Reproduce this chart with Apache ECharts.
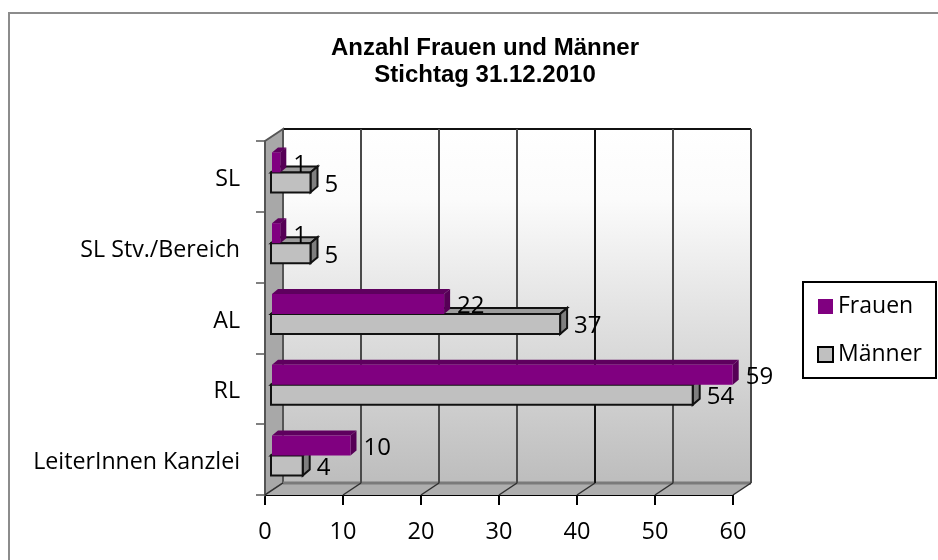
<!DOCTYPE html>
<html><head><meta charset="utf-8">
<style>html,body{margin:0;padding:0;background:#fff}#c{width:938px;height:560px}</style>
<script src="https://cdn.jsdelivr.net/npm/echarts@6/dist/echarts.min.js"></script>
</head><body><div id="c"></div>
<script>
var categories = ['SL','SL Stv./Bereich','AL','RL','LeiterInnen Kanzlei'];
var frauen = [1,1,22,59,10];
var maenner = [5,5,37,54,4];
var xTicks = [0,10,20,30,40,50,60];
var darkTicks = [40];

var DX = 18, DY = 12;      // wall depth
var BX = 6;                // bar start offset
var BH = 20;               // bar face height
var labelFont = '"Open Sans"';

var chart = echarts.init(document.getElementById('c'));

function poly(pts, fill, stroke, lw, z2) {
  return {type:'polygon', shape:{points:pts}, z2:z2||0,
    style:{fill:fill, stroke:stroke||null, lineWidth:lw||0}};
}

function renderWalls(params, api) {
  var x0 = api.coord([0,0])[0];
  var top = params.coordSys.y, h = params.coordSys.height;
  var bot = top + h;
  var xmax = api.coord([60,0])[0];
  var ch = [];
  // back wall
  ch.push({type:'rect', shape:{x:x0+DX, y:top-DY, width:xmax-x0, height:h},
    style:{fill:new echarts.graphic.LinearGradient(0,0,0,1,[
      {offset:0,color:'#ffffff'},{offset:0.2,color:'#fbfbfb'},{offset:1,color:'#bdbdbd'}]),
      stroke:null}});
  ch.push({type:'line', shape:{x1:x0+DX,y1:top-DY,x2:xmax+DX,y2:top-DY}, style:{stroke:'#111',lineWidth:2}});
  // left wall
  ch.push(poly([[x0,top],[x0+DX,top-DY],[x0+DX,bot-DY],[x0,bot]],'#a8a8a8','#555555',2));
  // floor
  ch.push(poly([[x0,bot],[x0+DX,bot-DY],[xmax+DX,bot-DY],[xmax,bot]],'#aeaeae',null,0));
  ch.push({type:'line', shape:{x1:x0+DX,y1:bot-DY,x2:xmax+DX,y2:bot-DY}, style:{stroke:'#7a7a7a',lineWidth:3}});
  // gridlines on back wall and floor
  xTicks.forEach(function(t){
    var x = api.coord([t,0])[0];
    var dark = darkTicks.indexOf(t) >= 0;
    var col = dark ? '#111111' : '#4a4a4a';
    if (t > 0) ch.push({type:'line', shape:{x1:x+DX,y1:top-DY,x2:x+DX,y2:bot-DY}, style:{stroke:col,lineWidth:2}});
    ch.push({type:'line', shape:{x1:x+DX,y1:bot-DY,x2:x,y2:bot}, style:{stroke:'#303030',lineWidth:1.5}});
  });
  return {type:'group', children:ch};
}

function barRender(offset, cols) {
  return function(params, api){
    var v = api.value(0), cat = api.value(1);
    var p0 = api.coord([0,cat]), p1 = api.coord([v,cat]);
    var xs = p0[0] + BX + cols.xs, xe = p1[0] + BX + cols.xe;
    var yt = p0[1] - 24 + offset, yb = yt + BH;
    var d = cols.d, up = cols.up;
    var ch = [];
    ch.push(poly([[xs,yt],[xs+d,yt-up],[xe+d,yt-up],[xe,yt]],cols.top,cols.edge,cols.lw));
    ch.push(poly([[xe,yt],[xe+d,yt-up],[xe+d,yb-up],[xe,yb]],cols.side,cols.edge,cols.lw));
    ch.push({type:'rect', shape:{x:xs,y:yt,width:xe-xs,height:BH}, style:{fill:cols.face,stroke:cols.edge,lineWidth:cols.lw}});
    ch.push({type:'text', z2:50, style:{text:String(v), x:xe+d+7, y:(yt+yb)/2+2.5, fill:'#000',
      font:'24px '+labelFont, textAlign:'left', textVerticalAlign:'middle'}});
    return {type:'group', children:ch};
  };
}

function rows(arr){ return arr.map(function(v,i){ return [v,i]; }); }

chart.setOption({
  animation:false,
  backgroundColor:'#fff',
  title:{text:'Anzahl Frauen und Männer\nStichtag 31.12.2010', left:480, top:30, textAlign:'center',
    textStyle:{fontFamily:'"Liberation Sans"', fontSize:24, fontWeight:'bold', color:'#000', lineHeight:27}},
  graphic:[{type:'polyline', z:-1, silent:true, shape:{points:[[9,570],[9,13],[950,13]]},
    style:{fill:'none',stroke:'#8c8c8c',lineWidth:2}}],
  legend:{orient:'vertical', left:803, top:282, padding:[13,14,12,14], itemGap:25, itemWidth:15, itemHeight:15,
    icon:'rect', backgroundColor:'#fff', borderColor:'#000', borderWidth:2, borderRadius:0,
    data:['Frauen','Männer'],
    textStyle:{fontFamily:labelFont, fontSize:23, color:'#000'}},
  grid:{left:265, right:205, top:141, bottom:65, containLabel:false},
  xAxis:{type:'value', min:0, max:60, interval:10,
    axisLine:{show:true,onZero:false,lineStyle:{color:'#000',width:2}},
    axisTick:{show:true,length:10,lineStyle:{color:'#000',width:2}},
    axisLabel:{margin:25,fontFamily:labelFont,fontSize:23.5,color:'#000',formatter:function(v){return xTicks.indexOf(v)>=0?String(v):'';}},
    splitLine:{show:false}},
  yAxis:{type:'category', inverse:true, data:categories,
    axisLine:{show:true,lineStyle:{color:'#555',width:2}},
    axisTick:{show:true,length:9,lineStyle:{color:'#808080',width:2}},
    axisLabel:{margin:25,fontFamily:labelFont,fontSize:23.2,color:'#000',verticalAlign:'top',lineHeight:6},
    splitLine:{show:false}},
  series:[
    {type:'custom', name:'walls', silent:true, z:1, renderItem:renderWalls, data:[[0,0]],
     encode:{x:0,y:1}},
    {type:'custom', name:'Männer', z:2, itemStyle:{color:'#c0c0c0',borderColor:'#000',borderWidth:1.5},
     renderItem:barRender(BH,{xs:0,xe:0.5,d:7,up:6,top:'#9c9c9c',side:'#7f7f7f',face:'#c0c0c0',edge:'#111',lw:2}),
     data:rows(maenner), encode:{x:0,y:1}},
    {type:'custom', name:'Frauen', z:3, itemStyle:{color:'#800080'},
     renderItem:barRender(0,{xs:1,xe:1.5,d:6,up:5,top:'#5e005e',side:'#560056',face:'#800080',edge:null,lw:0}),
     data:rows(frauen), encode:{x:0,y:1}}
  ]
});
</script></body></html>
